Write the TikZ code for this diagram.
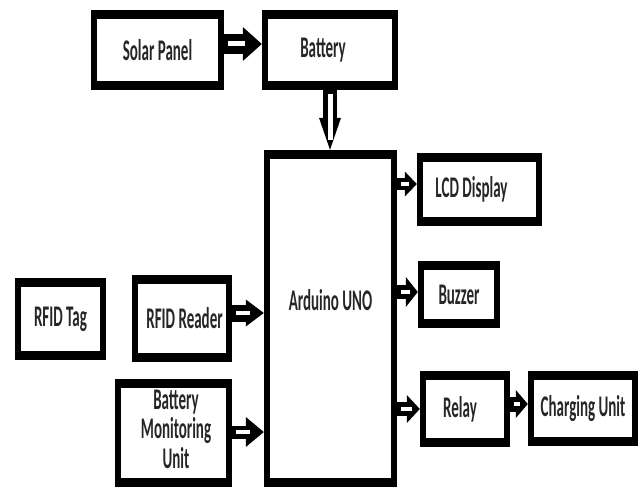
\documentclass[tikz,border=0pt]{standalone}
\usepackage{fontspec}
\usepackage{graphicx}
\newfontfamily\carl{Carlito}
\usetikzlibrary{arrows.meta}
\newcommand\lbl[1]{\scalebox{0.5}[1]{#1}}
% #1 from, #2 to, #3 shaft, #4 head width, #5 head length, #6 inner width, #7 inner shorten end
\newcommand\blk[7]{%
  \draw[line width=#3, -{Triangle[length=#5,width=#4,line width=0pt]}] #1 -- #2;
  \draw[white, line width=#6, shorten <=4pt, shorten >=#7] #1 -- #2;}
\begin{document}
\begin{tikzpicture}[x=1pt,y=-1pt,
  font=\carl\bfseries\fontsize{30}{29}\selectfont,
  box/.style={fill=black, inner sep=0pt, text=black!85,
    path picture={\fill[white] ([xshift=6pt,yshift=9pt]path picture bounding box.south west)
      rectangle ([xshift=-6pt,yshift=-9pt]path picture bounding box.north east);}}]
\useasboundingbox (0,0) rectangle (644,487);

\node[box, minimum width=133pt, minimum height=80pt] (sp) at (157.5,50) {\lbl{Solar Panel}};
\node[box, minimum width=136pt, minimum height=80pt] (bat) at (330,50) {\lbl{Battery}\kern14pt};
\node[box, minimum width=133pt, minimum height=337pt,
  label={[yshift=18pt,text=black!85]center:\lbl{Arduino UNO}}] (ard) at (330.5,318.5) {};
\node[box, minimum width=125pt, minimum height=73pt] (lcd) at (479.5,189.5) {\lbl{LCD Display}\kern16pt};
\node[box, minimum width=82pt, minimum height=67pt] (buz) at (459,294.5) {\lbl{Buzzer}};
\node[box, minimum width=90pt, minimum height=76pt] (rel) at (465,409) {\lbl{Relay}\kern10pt};
\node[box, minimum width=110pt, minimum height=75pt] (chg) at (583,408.5) {\lbl{Charging Unit}};
\node[box, minimum width=91pt, minimum height=82pt] (tag) at (60.5,319) {\lbl{RFID Tag}};
\node[box, minimum width=100pt, minimum height=87pt] (rdr) at (182,318.5) {\kern5pt\lbl{RFID Reader}};
\node[box, minimum width=117pt, minimum height=108pt] (bmu) at (173.5,433)
  {\kern5pt\lbl{\begin{tabular}{@{}c@{}}Battery\\Monitoring\\Unit\end{tabular}}};

\coordinate (c1) at ([yshift=6pt]sp.east);
\coordinate (c2) at (bat.south);
\coordinate (c3) at ([yshift=5.5pt]rdr.east);
\coordinate (c4) at ([yshift=1pt]bmu.east);
\coordinate (c5) at ([yshift=5.5pt]lcd.west);
\coordinate (c6) at ([yshift=2.5pt]buz.west);
\coordinate (c7) at (rel.west);
\coordinate (c8) at ([yshift=5pt]rel.east);

\blk{(c1)}{(c1 -| bat.west)}{19pt}{34pt}{19pt}{5pt}{17pt}
\blk{(c2)}{(c2 |- ard.north)}{14pt}{22pt}{32pt}{5pt}{10pt}
\blk{(c3)}{(c3 -| ard.west)}{17pt}{27pt}{18pt}{4pt}{14pt}
\blk{(c4)}{(c4 -| ard.west)}{13pt}{30pt}{18pt}{4pt}{14pt}
\blk{(c5 -| ard.east)}{(c5)}{12pt}{25pt}{12pt}{4pt}{8pt}
\blk{(c6 -| ard.east)}{(c6)}{14pt}{30pt}{12pt}{4pt}{8pt}
\blk{(c7 -| ard.east)}{(c7)}{14pt}{28pt}{13pt}{4pt}{8pt}
\blk{(c8)}{(c8 -| chg.west)}{15pt}{28pt}{12pt}{4pt}{8pt}
\end{tikzpicture}
\end{document}
